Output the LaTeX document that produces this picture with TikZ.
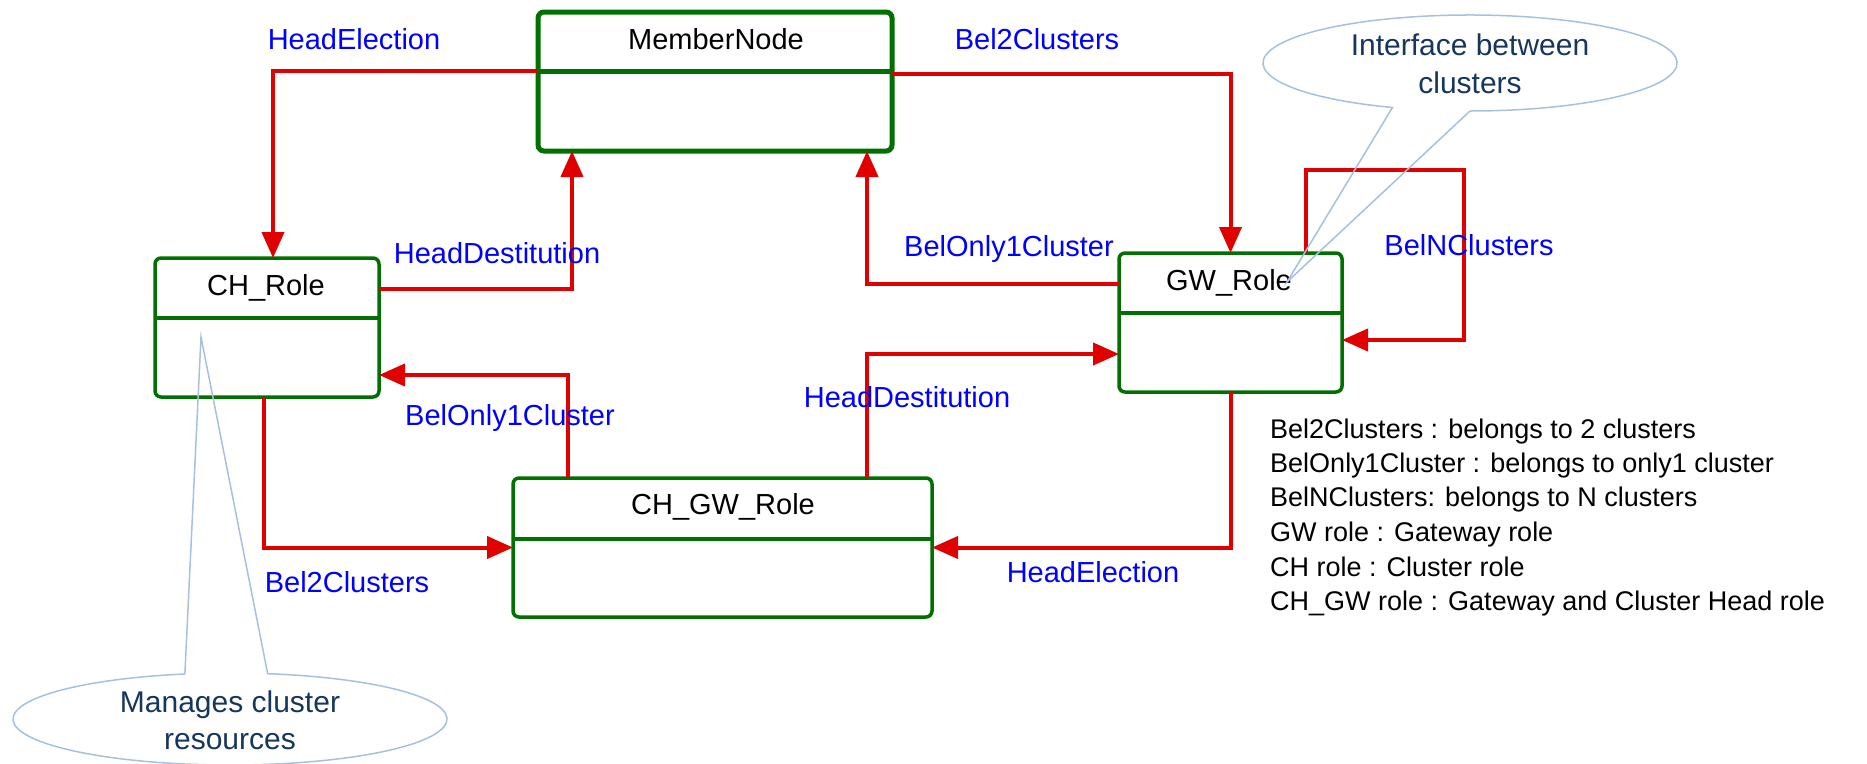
\documentclass[tikz,border=0pt]{standalone}
\usepackage{fontspec}
\setmainfont{Liberation Sans}
\usetikzlibrary{arrows.meta,calc}
\definecolor{linkred}{RGB}{224,0,0}
\definecolor{boxgreen}{RGB}{0,112,0}
\definecolor{labelblue}{RGB}{0,0,255}
\definecolor{calloutline}{RGB}{166,192,222}
\definecolor{callouttext}{RGB}{23,54,93}

\begin{document}
\begin{tikzpicture}[x=1pt,y=-1pt,
  box/.style={draw=boxgreen,line width=3.5pt,rounded corners=6pt,minimum height=139pt,inner sep=0pt,outer sep=0pt},
  divider/.style={draw=boxgreen,line width=3.5pt},
  title/.style={font=\fontsize{29}{34}\selectfont,anchor=base,inner sep=0pt},
  link/.style={draw=linkred,line width=4pt,-{Triangle[length=26pt,width=22pt]}},
  tag/.style={text=labelblue,font=\fontsize{29}{34}\selectfont,anchor=base,inner sep=0pt},
  callout/.style={draw=calloutline,line width=1.5pt},
  calltext/.style={text=callouttext,font=\fontsize{30}{36}\selectfont,anchor=base,inner sep=0pt},
  legend/.style={font=\fontsize{27}{32}\selectfont,anchor=base west,inner sep=0pt},
]
\useasboundingbox (0,0) rectangle (1867,763);

% class boxes
\node[box,line width=5pt,minimum width=354pt] (mem) at (715,81.5) {};
\node[box,minimum width=224pt] (ch) at (267,327.5) {};
\node[box,minimum width=223pt] (gw) at (1230.5,322.5) {};
\node[box,minimum width=419pt] (chgw) at (722.5,547.5) {};

% compartment dividers
\draw[divider,line width=5pt] ([yshift=-59pt]mem.north west) -- ([yshift=-59pt]mem.north east);
\draw[divider] ([yshift=-60pt]ch.north west) -- ([yshift=-60pt]ch.north east);
\draw[divider] ([yshift=-60pt]gw.north west) -- ([yshift=-60pt]gw.north east);
\draw[divider] ([yshift=-61pt]chgw.north west) -- ([yshift=-61pt]chgw.north east);

% box titles
\node[title] (memt) at (716,49) {MemberNode};
\node[title] (cht) at (266,295) {CH\_Role};
\node[title] (gwt) at (1229,290) {GW\_Role};
\node[title] (chgwt) at (723,514) {CH\_GW\_Role};

% transitions
\coordinate (loop) at (1464,170);
\draw[link] ([yshift=-59pt]mem.north west) -| ([xshift=6pt]ch.north);
\draw[link] ([yshift=-62pt]mem.north east) -| (gw.north);
\draw[link] ([yshift=-31pt]ch.north east) -| ([xshift=34pt]mem.south west);
\draw[link] ([yshift=-31pt]gw.north west) -| ([xshift=-25pt]mem.south east);
\draw[link] ([xshift=55pt]chgw.north west) |- ([yshift=22pt]ch.south east);
\draw[link] ([xshift=-65pt]chgw.north east) |- ([yshift=38pt]gw.south west);
\draw[link] ([xshift=-3pt]ch.south) |- (chgw.west);
\draw[link] (gw.south) |- (chgw.east);
\draw[link] ([xshift=-36pt]gw.north east) |- (loop) |- ([yshift=52pt]gw.south east);

% transition labels
\node[tag] (l1) at (354,49) {HeadElection};
\node[tag] (l2) at (1037,49) {Bel2Clusters};
\node[tag] (l3) at (497,263) {HeadDestitution};
\node[tag] (l4) at (1009,256) {BelOnly1Cluster};
\node[tag] (l5) at (1469,255) {BelNClusters};
\node[tag] (l6) at (510,425) {BelOnly1Cluster};
\node[tag] (l7) at (907,407) {HeadDestitution};
\node[tag] (l8) at (347,592) {Bel2Clusters};
\node[tag] (l9) at (1093,582) {HeadElection};

% legend
\node[legend] (g1) at (1270,438) {Bel2Clusters : belongs to 2 clusters};
\node[legend] (g2) at (1270,472) {BelOnly1Cluster : belongs to only1 cluster};
\node[legend] (g3) at (1270,506) {BelNClusters: belongs to N clusters};
\node[legend] (g4) at (1270,541) {GW role : Gateway role};
\node[legend] (g5) at (1270,576) {CH role : Cluster role};
\node[legend] (g6) at (1270,610) {CH\_GW role : Gateway and Cluster Head role};

% callouts
\coordinate (c1) at (1470,63);
\coordinate (tip1) at (1287,282);
\draw[callout] ($(c1)+(90:207 and 48)$) -- (tip1) -- ($(c1)+(112:207 and 48)$)
  arc[start angle=112,end angle=450,x radius=207,y radius=48];
\node[calltext] (ct1a) at (1470,55) {Interface between};
\node[calltext] (ct1b) at (1470,93) {clusters};

\coordinate (c2) at (230,719);
\coordinate (tip2) at (201,337);
\draw[callout] ($(c2)+(258:217 and 46)$) -- (tip2) -- ($(c2)+(280:217 and 46)$)
  arc[start angle=280,end angle=618,x radius=217,y radius=46];
\node[calltext] (ct2a) at (230,712) {Manages cluster};
\node[calltext] (ct2b) at (230,749) {resources};
\end{tikzpicture}
\end{document}
